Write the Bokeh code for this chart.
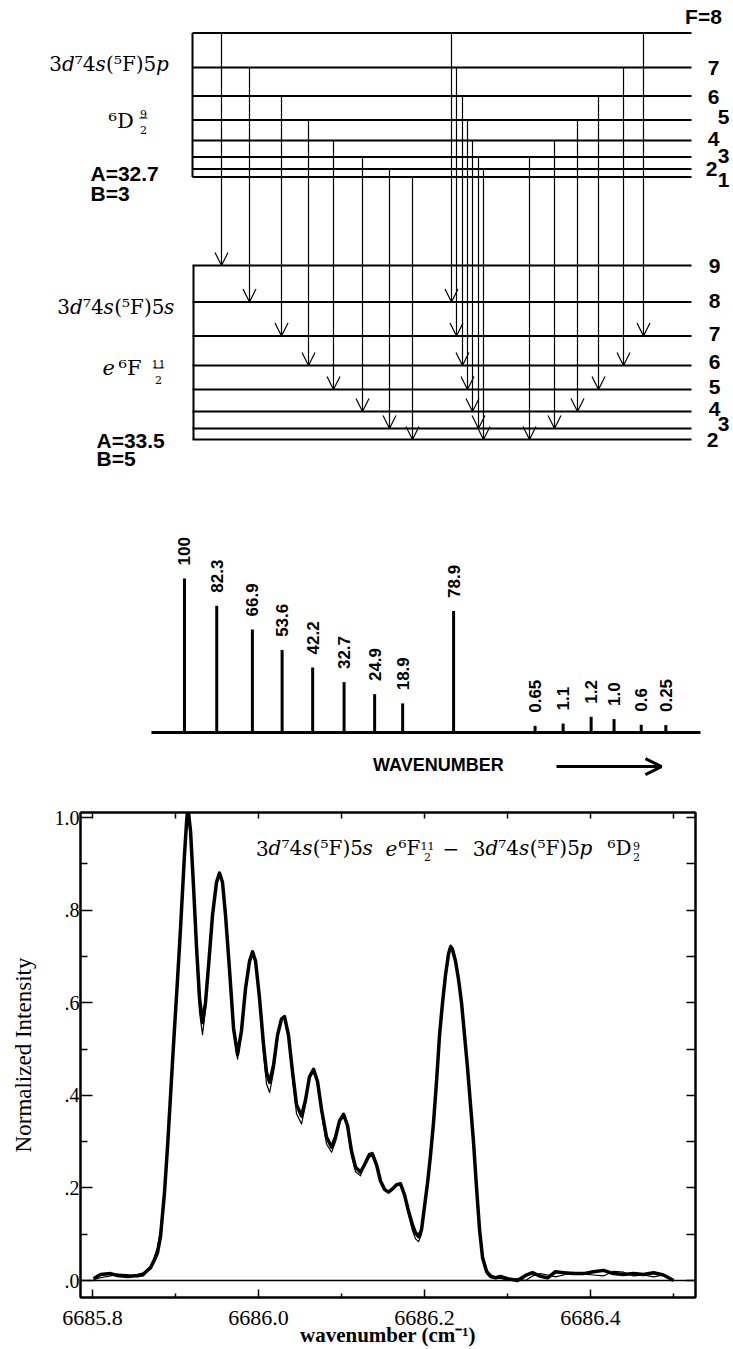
import math
from bokeh.plotting import figure
from bokeh.layouts import column
from bokeh.models import (Range1d, ColumnDataSource, Arrow, OpenHead, Span,
                          LinearAxis, FixedTicker, CustomJSTickFormatter)
from bokeh.core.properties import value
from bokeh.embed import file_html
from bokeh.resources import INLINE

SERIF = "DejaVu Serif"
TSERIF = "Liberation Serif"
SANS = "Liberation Sans"

# ---------------- level diagram data ----------------
upper_F = [8, 7, 6, 5, 4, 3, 2, 1]
upper_level = [32.5, 67, 95.5, 119.5, 140, 156.5, 168.5, 176.5]      # drawn level heights (diagram units, downward)
lower_F = [9, 8, 7, 6, 5, 4, 3, 2]
lower_level = [265, 301.5, 335.5, 365, 389, 411, 428, 439]
trans_Fu = [8, 7, 6, 5, 4, 3, 2, 1, 8, 7, 6, 5, 4, 3, 2, 3, 4, 5, 6, 7, 8]
trans_Fl = [9, 8, 7, 6, 5, 4, 3, 2, 8, 7, 6, 5, 4, 3, 2, 2, 3, 4, 5, 6, 7]
trans_col = [221, 249, 281, 308, 333, 362, 389, 412,
             451, 456, 462, 467, 472, 478, 483,
             529, 554, 577, 598, 623, 643]
upper_lab_x = [703, 713, 713, 723, 713, 723, 711, 723]
upper_lab_y = [16, 67, 96, 116, 138, 155, 168, 179]
lower_lab_x = [714, 714, 714, 714, 714, 714, 723, 712]
lower_lab_y = [265, 300, 333, 361, 386, 408, 423, 439]

# ---------------- stick spectrum data ----------------
stick_wn = [6685.914, 6685.952, 6685.994, 6686.029, 6686.065, 6686.102, 6686.138, 6686.171,
            6686.231, 6686.327, 6686.360, 6686.393, 6686.420, 6686.452, 6686.481]
stick_label = ["100", "82.3", "66.9", "53.6", "42.2", "32.7", "24.9", "18.9",
               "78.9", "0.65", "1.1", "1.2", "1.0", "0.6", "0.25"]
stick_height = [100, 82.3, 66.9, 53.6, 42.2, 32.7, 24.9, 18.9,
                78.9, 4.3, 5.8, 10.2, 8.7, 5.0, 4.8]

# ---------------- measured / fitted profile ----------------
wavenumber = [6685.8012, 6685.8096, 6685.8217, 6685.8301, 6685.8422, 6685.8542, 6685.8614, 6685.8699, 6685.8747, 6685.8783,
              6685.8819, 6685.8867, 6685.8904, 6685.8940, 6685.8976, 6685.9024, 6685.9060, 6685.9084, 6685.9108, 6685.9133,
              6685.9145, 6685.9157, 6685.9181, 6685.9217, 6685.9253, 6685.9289, 6685.9325, 6685.9361, 6685.9398, 6685.9446,
              6685.9494, 6685.9530, 6685.9566, 6685.9602, 6685.9651, 6685.9699, 6685.9747, 6685.9795, 6685.9843, 6685.9892,
              6685.9928, 6685.9964, 6686.0012, 6686.0060, 6686.0096, 6686.0133, 6686.0181, 6686.0229, 6686.0277, 6686.0313,
              6686.0361, 6686.0410, 6686.0458, 6686.0518, 6686.0566, 6686.0614, 6686.0663, 6686.0711, 6686.0759, 6686.0819,
              6686.0880, 6686.0928, 6686.0976, 6686.1024, 6686.1072, 6686.1120, 6686.1169, 6686.1229, 6686.1277, 6686.1325,
              6686.1373, 6686.1422, 6686.1470, 6686.1518, 6686.1566, 6686.1614, 6686.1663, 6686.1711, 6686.1759, 6686.1807,
              6686.1855, 6686.1892, 6686.1928, 6686.1964, 6686.2000, 6686.2036, 6686.2072, 6686.2108, 6686.2145, 6686.2181,
              6686.2217, 6686.2253, 6686.2289, 6686.2313, 6686.2337, 6686.2373, 6686.2410, 6686.2446, 6686.2482, 6686.2518,
              6686.2554, 6686.2590, 6686.2627, 6686.2663, 6686.2699, 6686.2747, 6686.2795, 6686.2855, 6686.2916, 6686.3000,
              6686.3120, 6686.3217, 6686.3301, 6686.3398, 6686.3482, 6686.3578, 6686.3675, 6686.3795, 6686.3916, 6686.4036,
              6686.4157, 6686.4277, 6686.4398, 6686.4518, 6686.4639, 6686.4759, 6686.4880, 6686.5000]
observed = [0.004, 0.013, 0.015, 0.011, 0.009, 0.011, 0.014, 0.028, 0.045, 0.060,
            0.095, 0.19, 0.29, 0.40, 0.51, 0.65, 0.76, 0.84, 0.92, 0.99,
            1.015, 1.01, 0.97, 0.85, 0.72, 0.61, 0.557, 0.60, 0.68, 0.79,
            0.86, 0.880, 0.86, 0.79, 0.67, 0.545, 0.488, 0.54, 0.63, 0.69,
            0.710, 0.69, 0.61, 0.51, 0.45, 0.428, 0.465, 0.53, 0.565, 0.570,
            0.53, 0.45, 0.38, 0.355, 0.39, 0.44, 0.456, 0.43, 0.37, 0.31,
            0.288, 0.31, 0.345, 0.359, 0.335, 0.28, 0.245, 0.234, 0.25, 0.268,
            0.273, 0.25, 0.215, 0.197, 0.191, 0.198, 0.207, 0.209, 0.185, 0.15,
            0.12, 0.103, 0.095, 0.11, 0.16, 0.21, 0.27, 0.34, 0.43, 0.53,
            0.60, 0.66, 0.705, 0.720, 0.715, 0.69, 0.65, 0.60, 0.53, 0.46,
            0.38, 0.30, 0.20, 0.11, 0.05, 0.02, 0.01, 0.006, 0.009, 0.004,
            0.0, 0.011, 0.017, 0.009, 0.006, 0.019, 0.017, 0.015, 0.015, 0.019,
            0.022, 0.015, 0.013, 0.015, 0.013, 0.017, 0.012, 0.0]
fitted = [0.002, 0.006, 0.010, 0.014, 0.013, 0.008, 0.010, 0.030, 0.052, 0.072,
          0.11, 0.20, 0.30, 0.40, 0.51, 0.65, 0.76, 0.84, 0.92, 0.99,
          1.015, 1.01, 0.97, 0.84, 0.70, 0.58, 0.531, 0.585, 0.675, 0.79,
          0.86, 0.882, 0.86, 0.785, 0.66, 0.535, 0.478, 0.535, 0.63, 0.69,
          0.712, 0.69, 0.60, 0.49, 0.425, 0.406, 0.45, 0.525, 0.565, 0.572,
          0.525, 0.435, 0.36, 0.338, 0.38, 0.44, 0.458, 0.43, 0.36, 0.295,
          0.277, 0.30, 0.345, 0.36, 0.33, 0.27, 0.235, 0.226, 0.252, 0.274,
          0.277, 0.252, 0.212, 0.195, 0.19, 0.197, 0.207, 0.208, 0.182, 0.143,
          0.108, 0.09, 0.084, 0.10, 0.155, 0.21, 0.275, 0.345, 0.435, 0.535,
          0.605, 0.665, 0.71, 0.725, 0.72, 0.695, 0.655, 0.60, 0.53, 0.455,
          0.375, 0.295, 0.195, 0.105, 0.045, 0.015, 0.006, 0.004, 0.005, 0.0,
          0.004, 0.0, 0.01, 0.015, 0.012, 0.008, 0.012, 0.018, 0.014, 0.012,
          0.01, 0.02, 0.018, 0.01, 0.012, 0.008, 0.012, 0.0]
x_ticks = [6685.8, 6686.0, 6686.2, 6686.4]
x_minor = [6685.9, 6686.1, 6686.3, 6686.5]
y_ticks = [0.0, 0.2, 0.4, 0.6, 0.8, 1.0]
y_minor = [0.1, 0.3, 0.5, 0.7, 0.9]
top_ticks = [6685.8, 6685.9, 6686.0, 6686.1, 6686.2, 6686.3, 6686.4, 6686.5]
right_ticks = [0.0, 0.1, 0.2, 0.3, 0.4, 0.5, 0.6, 0.7, 0.8, 0.9, 1.0]


def put(p, x, y, s, font, size, style="normal", align="left", baseline="alphabetic", angle=0):
    p.text(x=[x], y=[y], text=[s], text_font=value(font), text_font_size=size,
           text_font_style=style, text_align=align, text_baseline=baseline,
           angle=angle, text_color="black")


# approximate advance widths (em) of DejaVu Serif, used to chain upright / italic pieces
EM = {"0": 0.636, "1": 0.636, "2": 0.636, "3": 0.636, "4": 0.636, "5": 0.636, "6": 0.636,
      "7": 0.636, "8": 0.636, "9": 0.636, "d": 0.640, "s": 0.530, "p": 0.640, "e": 0.592,
      "(": 0.390, ")": 0.390, "F": 0.674, "D": 0.770, " ": 0.318, "−": 0.838,
      "⁵": 0.401, "⁶": 0.401, "⁷": 0.401}


def rich(p, x, y, pieces, size, align="left"):
    widths = [sum(EM.get(ch, 0.6) for ch in t) * size for t, _ in pieces]
    off = -sum(widths) / 2.0 if align == "center" else 0.0
    for (t, st), w in zip(pieces, widths):
        p.text(x=[x], y=[y], text=[t], x_offset=off, text_font=value(SERIF),
               text_font_size="%dpx" % size, text_font_style=st, text_align="left",
               text_baseline="alphabetic", text_color="black")
        off += w


def config(shell_last):
    return [("3", "normal"), ("d", "italic"), ("⁷4", "normal"), ("s", "italic"),
            ("(⁵F)5", "normal"), (shell_last, "italic")]


def bare(p):
    p.grid.visible = False
    p.outline_line_color = None


W = 733

# ================= Figure A : hyperfine level diagram =================
pA = figure(width=W, height=470, x_range=Range1d(0, W), y_range=Range1d(470, 0),
            x_axis_location=None, y_axis_location=None, toolbar_location=None,
            output_backend="svg", min_border=0, frame_align=False)
bare(pA)
LX0, LX1 = 192, 691
pA.segment(x0=[LX0] * len(upper_level), x1=[LX1] * len(upper_level),
           y0=upper_level, y1=upper_level, line_width=2, line_color="black")
pA.segment(x0=[LX0] * len(lower_level), x1=[LX1] * len(lower_level),
           y0=lower_level, y1=lower_level, line_width=2, line_color="black")
pA.segment(x0=[LX0, LX0 + 1], x1=[LX0, LX0 + 1], y0=[upper_level[0], lower_level[0]],
           y1=[upper_level[-1], lower_level[-1]], line_width=2, line_color="black")

up_y = dict(zip(upper_F, upper_level))
lo_y = dict(zip(lower_F, lower_level))
tsrc = ColumnDataSource(dict(x=trans_col,
                             y0=[up_y[f] for f in trans_Fu],
                             y1=[lo_y[f] for f in trans_Fl]))
pA.add_layout(Arrow(end=OpenHead(size=13, line_width=1.2, line_color="black"),
                    x_start="x", y_start="y0", x_end="x", y_end="y1",
                    source=tsrc, line_width=1.2, line_color="black"))

up_txt = ["F=%d" % upper_F[0]] + [str(f) for f in upper_F[1:]]
pA.text(x=upper_lab_x, y=upper_lab_y, text=up_txt, text_font=value(SANS), text_font_size="21px",
        text_font_style="bold", text_align="center", text_baseline="middle")
pA.text(x=lower_lab_x, y=lower_lab_y, text=[str(f) for f in lower_F], text_font=value(SANS),
        text_font_size="21px", text_font_style="bold", text_align="center", text_baseline="middle")

# left-hand term labels
rich(pA, 108.5, 63, config("p"), 20, align="center")
put(pA, 108, 120, "⁶D", SERIF, "21px")
put(pA, 143, 113, "9", SERIF, "11px", align="center")
put(pA, 143, 129, "2", SERIF, "11px", align="center")
pA.segment(x0=[139], x1=[147], y0=[117.5], y1=[117.5], line_width=1, line_color="black")
put(pA, 90, 173, "A=32.7", SANS, "21px", style="bold")
put(pA, 90, 193, "B=3", SANS, "21px", style="bold")

rich(pA, 115.5, 306, config("s"), 20, align="center")
put(pA, 102, 367, "e", SERIF, "21px", style="italic")
put(pA, 118, 367, "⁶F", SERIF, "21px")
put(pA, 158, 363, "11", SERIF, "11px", align="center")
put(pA, 158, 379, "2", SERIF, "11px", align="center")
pA.segment(x0=[153], x1=[163], y0=[367.5], y1=[367.5], line_width=1, line_color="black")
put(pA, 96, 440, "A=33.5", SANS, "21px", style="bold")
put(pA, 96, 458, "B=5", SANS, "21px", style="bold")

# ================= Figure B : stick spectrum =================
pB = figure(width=W, height=320, x_range=Range1d(6685.6973, 6686.5607),
            y_range=Range1d(-37.66, 170.13), x_axis_location=None, y_axis_location=None,
            toolbar_location=None, output_backend="svg", min_border=0, frame_align=False)
bare(pB)
pB.segment(x0=[6685.8751], x1=[6686.5218], y0=[0], y1=[0], line_width=3, line_color="black")
LABEL_GAP = 8.5
ssrc = ColumnDataSource(dict(x=stick_wn, h=stick_height, lab=stick_label,
                             ly=[h + LABEL_GAP for h in stick_height]))
pB.segment(x0="x", x1="x", y0=0, y1="h", source=ssrc, line_width=3, line_color="black")
pB.text(x="x", y="ly", text="lab", source=ssrc, angle=math.pi / 2, text_align="left",
        text_baseline="middle", text_font=value(SANS), text_font_size="17px",
        text_font_style="bold")
put(pB, 6686.213, -21.4, "WAVENUMBER", SANS, "18px", style="bold", align="center", baseline="middle")
pB.add_layout(Arrow(end=OpenHead(size=16, line_width=3, line_color="black"),
                    x_start=6686.3522, y_start=-22.1, x_end=6686.4758, y_end=-22.1,
                    line_width=3, line_color="black"))

# ================= Figure C : profile =================
pC = figure(width=W, height=559, x_range=Range1d(6685.7855, 6686.5265),
            y_range=Range1d(-0.0366, 1.0108), toolbar_location=None, output_backend="svg",
            min_border_left=80, min_border_right=38, min_border_top=22, min_border_bottom=50,
            x_axis_label="wavenumber (cm⁻¹)", y_axis_label="Normalized Intensity",
            frame_align=False)
pC.grid.visible = False
pC.outline_line_color = "black"
pC.outline_line_width = 2

xa = pC.xaxis[0]
xa.ticker = FixedTicker(ticks=x_ticks, minor_ticks=x_minor)
xa.formatter = CustomJSTickFormatter(code="return tick.toFixed(1);")
xa.major_tick_in, xa.major_tick_out = 8, 0
xa.minor_tick_in, xa.minor_tick_out = 4, 0
xa.major_label_text_font = TSERIF
xa.major_label_text_font_size = "22px"
xa.major_label_text_color = "black"
xa.major_label_standoff = 13
xa.axis_label_text_font = TSERIF
xa.axis_label_text_font_size = "21px"
xa.axis_label_text_font_style = "bold"
xa.axis_label_text_color = "black"
xa.axis_label_standoff = -5
xa.axis_line_width = 2
xa.major_tick_line_width = 1.5
xa.minor_tick_line_width = 1.5

ya = pC.yaxis[0]
ya.ticker = FixedTicker(ticks=y_ticks, minor_ticks=y_minor)
ya.formatter = CustomJSTickFormatter(code="const s = tick.toFixed(1); return tick < 0.99 ? s.slice(1) : s;")
ya.major_tick_in, ya.major_tick_out = 12, 0
ya.minor_tick_in, ya.minor_tick_out = 7, 0
ya.major_label_text_font = TSERIF
ya.major_label_text_font_size = "20px"
ya.major_label_text_color = "black"
ya.major_label_standoff = 1
ya.axis_label_text_font = TSERIF
ya.axis_label_text_font_size = "23px"
ya.axis_label_text_font_style = "normal"
ya.axis_label_text_color = "black"
ya.axis_label_standoff = 16
ya.axis_line_width = 2
ya.major_tick_line_width = 1.5
ya.minor_tick_line_width = 1.5

blank = "return '';"
top = LinearAxis(ticker=FixedTicker(ticks=top_ticks), formatter=CustomJSTickFormatter(code=blank),
                 major_tick_in=6, major_tick_out=0, minor_tick_in=0, minor_tick_out=0,
                 major_label_text_font_size="0px", axis_line_width=2, major_tick_line_width=1.5)
pC.add_layout(top, "above")
right = LinearAxis(ticker=FixedTicker(ticks=right_ticks), formatter=CustomJSTickFormatter(code=blank),
                   major_tick_in=9, major_tick_out=0, minor_tick_in=0, minor_tick_out=0,
                   major_label_text_font_size="0px", axis_line_width=2, major_tick_line_width=1.5)
pC.add_layout(right, "right")

pC.add_layout(Span(location=0, dimension="width", line_color="black", line_width=1.5))
pC.line(wavenumber, observed, line_width=3.5, line_color="black", line_join="round")
pC.line(wavenumber, fitted, line_width=1.2, line_color="black", line_join="round")


def cx(px):
    return 6686.0 + (px - 258) / 830.0


def cy(py):
    return (1282 - py) / 465.0


TB = 848
rich(pC, cx(314), cy(TB), config("s"), 20, align="center")
put(pC, cx(385), cy(TB), "e", SERIF, "20px", style="italic")
put(pC, cx(398), cy(TB), "⁶F", SERIF, "20px")
put(pC, cx(427), cy(TB - 2), "11", SERIF, "11px", align="center")
put(pC, cx(427), cy(TB + 9), "2", SERIF, "11px", align="center")
put(pC, cx(442), cy(TB), "−", SERIF, "20px")
rich(pC, cx(532), cy(TB), config("p"), 20, align="center")
put(pC, cx(607), cy(TB), "⁶D", SERIF, "20px")
put(pC, cx(636), cy(TB - 2), "9", SERIF, "11px", align="center")
put(pC, cx(636), cy(TB + 9), "2", SERIF, "11px", align="center")

layout = column(pA, pB, pC, spacing=0)
open("out.html", "w").write(file_html(layout, INLINE))
